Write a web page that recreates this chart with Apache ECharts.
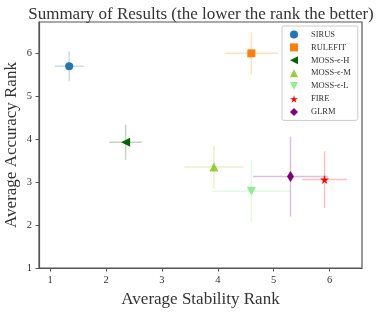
<!DOCTYPE html>
<html><head><meta charset="utf-8">
<script src="https://cdn.jsdelivr.net/npm/echarts@6/dist/echarts.min.js"></script>
<style>html,body{margin:0;padding:0;background:#fff}#c{width:379px;height:313px}</style>
</head><body><div id="c"></div>
<script>
const methods = ['SIRUS','RULEFIT','MOSS-ϵ-H','MOSS-ϵ-M','MOSS-ϵ-L','FIRE','GLRM'];
const stabilityMean = [1.34, 4.60, 2.35, 3.93, 4.60, 5.91, 5.30];
const accuracyMean  = [5.70, 6.00, 3.93, 3.35, 2.79, 3.06, 3.13];
const stabilityErr  = [0.26, 0.48, 0.29, 0.53, 0.70, 0.40, 0.67];
const accuracyErr   = [0.35, 0.49, 0.41, 0.49, 0.72, 0.66, 0.93];
const colors = ['#1f77b4','#ff7f0e','#006400','#9acd32','#90ee90','#ff0000','#800080'];
const xTicks = [1,2,3,4,5,6];
const yTicks = [1,2,3,4,5,6];

const triLeft = 'path://M0,5L10,0L10,10Z';
const triDown = 'path://M0,0L10,0L5,10Z';
const triUp = 'path://M5,0L10,10L0,10Z';
const star = 'path://M50,0L61,35L98,35L68,57L79,91L50,70L21,91L32,57L2,35L39,35Z';
const symbols = ['circle','rect',triLeft,triUp,triDown,star,'diamond'];
const sizes = [8,8,9,9,9,9,[7,11]];

function rgba(hex,a){const n=parseInt(hex.slice(1),16);return `rgba(${n>>16&255},${n>>8&255},${n&255},${a})`;}

const FONT = '"Liberation Serif", serif';
const series = [];
methods.forEach((m,i)=>{
  series.push({
    type:'custom', name: m+'_err', silent:true, z:2,
    data:[[stabilityMean[i], accuracyMean[i], stabilityErr[i], accuracyErr[i]]],
    renderItem:(params, api)=>{
      const x=api.value(0), y=api.value(1), ex=api.value(2), ey=api.value(3);
      const a=api.coord([x-ex,y]), b=api.coord([x+ex,y]);
      const c=api.coord([x,y-ey]), d=api.coord([x,y+ey]);
      const st={stroke:rgba(colors[i],0.25), lineWidth:1.5};
      return {type:'group',children:[
        {type:'line',shape:{x1:a[0],y1:a[1],x2:b[0],y2:b[1]},style:st},
        {type:'line',shape:{x1:c[0],y1:c[1],x2:d[0],y2:d[1]},style:st}
      ]};
    }
  });
  series.push({
    type:'scatter', name:m, z:3,
    symbol:symbols[i], symbolSize:sizes[i],
    itemStyle:{color:colors[i], opacity:1},
    data:[[stabilityMean[i], accuracyMean[i]]]
  });
});

const chart = echarts.init(document.getElementById('c'));
chart.setOption({
  animation:false,
  title:{text:'Summary of Results (the lower the rank the better)', left:196, textAlign:'center', top:1,
    textStyle:{fontFamily:FONT, fontWeight:'normal', fontSize:17, color:'#333'}},
  grid:{left:39, right:17, top:22, bottom:45, show:true, borderColor:'#555', borderWidth:1.2,
    containLabel:false, outerBoundsMode:'none'},
  legend:{
    orient:'vertical', left:282, top:26, width:70,
    data: methods.map((m,i)=>({name:m, icon: symbols[i]})),
    itemWidth:8, itemHeight:8, itemGap:3.9,
    backgroundColor:'#fff', borderColor:'#ccc', borderWidth:1, borderRadius:2,
    padding:[4,7,4,8],
    textStyle:{fontFamily:FONT, fontSize:8.5, color:'#333', padding:[0,0,0,8]}
  },
  xAxis:{type:'value', min:0.8, max:6.58,
    name:'Average Stability Rank', nameLocation:'middle', nameGap:23, nameMoveOverlap:false,
    nameTextStyle:{fontFamily:FONT, fontSize:17, color:'#333'},
    axisLine:{show:true, lineStyle:{color:'#555', width:1.2}},
    axisTick:{show:true, length:3.5, customValues:xTicks, lineStyle:{color:'#555'}},
    axisLabel:{customValues:xTicks, fontFamily:FONT, fontSize:10.5, color:'#333', margin:7},
    splitLine:{show:false}},
  yAxis:{type:'value', min:1, max:6.73,
    name:'Average Accuracy Rank', nameLocation:'middle', nameGap:19, nameMoveOverlap:false,
    nameTextStyle:{fontFamily:FONT, fontSize:17, color:'#333'},
    axisLine:{show:true, lineStyle:{color:'#555', width:1.2}},
    axisTick:{show:true, length:3.5, customValues:yTicks, lineStyle:{color:'#555'}},
    axisLabel:{customValues:yTicks, fontFamily:FONT, fontSize:10.5, color:'#333', margin:7},
    splitLine:{show:false}},
  series: series
});
</script></body></html>
